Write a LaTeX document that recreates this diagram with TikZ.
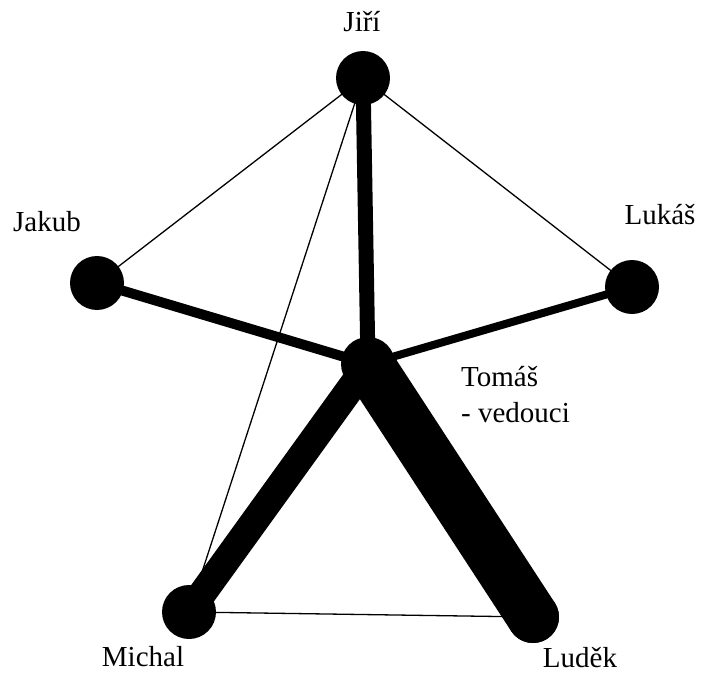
\documentclass[tikz,border=0pt]{standalone}
\usepackage{fontspec}
\setmainfont{Liberation Serif}
\newfontfamily\labelfont{Liberation Serif}
\tikzset{
  person/.style={circle, fill=black, inner sep=0pt, minimum size=54pt},
  lbl/.style={inner sep=0pt, font=\labelfont\fontsize{29}{34}\selectfont},
  thin link/.style={line width=1.3pt},
  tie/.style={line cap=round}
}
\begin{document}
\begin{tikzpicture}[x=1pt,y=-1pt]
\useasboundingbox (0,0) rectangle (707,674);
\fill[white] (0,0) rectangle (707,674);
% people
\node[person] (jiri) at (363,78) {};
\node[person] (jakub) at (97,283) {};
\node[person] (lukas) at (632,287) {};
\node[person] (tomas) at (368,364) {};
\node[person] (michal) at (189,612) {};
\node[person, minimum size=52pt] (ludek) at (533,617) {};
% labels
\node[lbl] (ljiri) at (362,22) {Jiří};
\node[lbl] (ljakub) at (47,222) {Jakub};
\node[lbl] (llukas) at (660,215) {Lukáš};
\node[lbl, anchor=west] (ltomas) at (461,377) {Tomáš};
\node[lbl, anchor=west] (lved) at (461,413) {- vedouci};
\node[lbl, anchor=base] (lmichal) at (143,666) {Michal};
\node[lbl, anchor=base] (lludek) at (580,667) {Luděk};
% thin links
\draw[thin link] (jiri.center) -- (jakub.center);
\draw[thin link] (jiri.center) -- (lukas.center);
\draw[thin link] (jiri.center) -- (michal.center);
\draw[thin link] (michal.center) -- (ludek.center);
% strong links
\draw[tie, line width=15pt] (jiri.center) -- (tomas.center);
\draw[tie, line width=10pt] (jakub.center) -- (tomas.center);
\draw[tie, line width=8pt] (lukas.center) -- (tomas.center);
\draw[tie, line width=28pt] (tomas.center) -- (michal.center);
\draw[tie, line width=52pt] (tomas.center) -- (ludek.center);
\end{tikzpicture}
\end{document}
